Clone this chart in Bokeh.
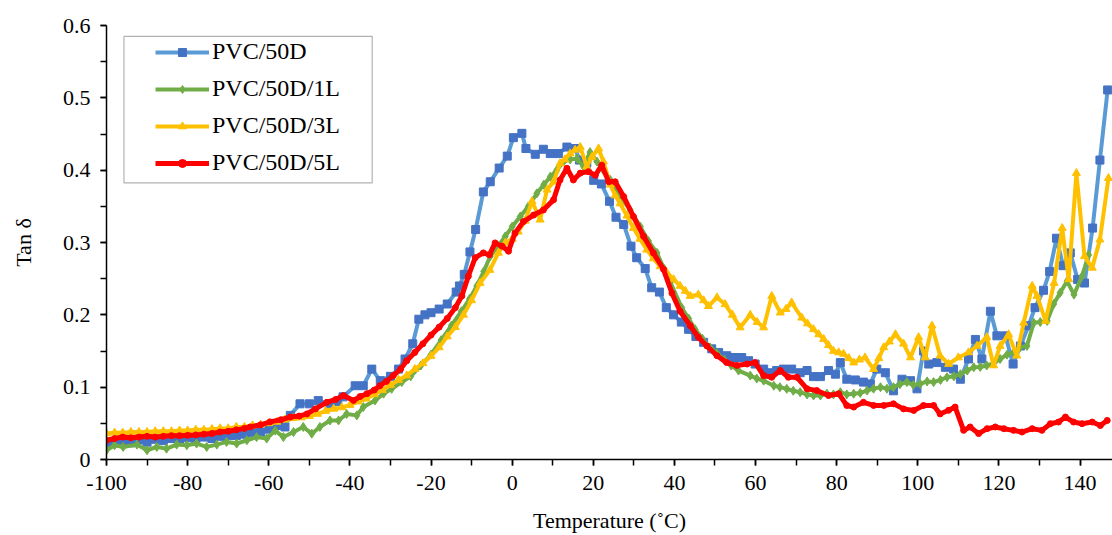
from bokeh.plotting import figure
from bokeh.embed import file_html
from bokeh.resources import INLINE
from bokeh.models import SingleIntervalTicker, NumeralTickFormatter, BoxAnnotation

# ---------------- data ----------------
blue_t = [-100, -98, -96, -94, -92, -90, -88, -86, -84, -82, -80, -78, -76, -74, -72, -70, -68, -66, -64, -62,
          -60, -58, -56, -54.7, -52.3, -50, -47.8, -45, -43, -41.7, -38.7, -36.7, -34.6, -32.5, -30, -28, -26.4,
          -24.5, -23, -21.5, -20, -18, -16, -13.8, -13, -11.8, -10.4, -9, -7.1, -5.4, -3.2, -1.2, 0.3, 2.4, 3.4,
          5.7, 7.7, 9.4, 11.4, 13.5, 15.5, 16.6, 18.4, 20.1, 22, 24, 25.6, 27.5, 29.3, 30.7, 32.8, 34.4, 36.3,
          38, 39.8, 41.7, 43.5, 45.3, 47.2, 49.2, 50.9, 52.9, 54.6, 56.6, 58.3, 59.9, 62, 63.6, 65.2, 66.9, 68.9,
          71, 72.7, 74.3, 76, 78, 79.7, 80.9, 82.5, 84.6, 86.6, 88.3, 89.9, 92, 94, 96.1, 98.2, 99.8, 101.4,
          102.7, 104.7, 106.8, 108.8, 110.5, 112.5, 114.2, 115.8, 117.9, 119.5, 121.6, 123.5, 125.3, 127.3,
          128.9, 131, 132.5, 134.2, 135.8, 137.6, 139.4, 141.1, 143.1, 144.9, 146.8]
blue_v = [0.020, 0.024, 0.026, 0.023, 0.027, 0.024, 0.028, 0.026, 0.029, 0.027, 0.030, 0.028, 0.031, 0.029,
          0.032, 0.033, 0.033, 0.035, 0.037, 0.038, 0.042, 0.047, 0.045, 0.061, 0.077, 0.077, 0.0815, 0.077,
          0.080, 0.0866, 0.102, 0.102, 0.125, 0.109, 0.115, 0.125, 0.139, 0.160, 0.194, 0.200, 0.203, 0.208,
          0.215, 0.2315, 0.240, 0.256, 0.287, 0.318, 0.370, 0.384, 0.403, 0.4195, 0.445, 0.451, 0.430, 0.422,
          0.429, 0.423, 0.423, 0.432, 0.430, 0.414, 0.410, 0.386, 0.381, 0.357, 0.335, 0.325, 0.295, 0.279,
          0.264, 0.2375, 0.2315, 0.210, 0.200, 0.190, 0.180, 0.170, 0.162, 0.153, 0.148, 0.1435, 0.141, 0.141,
          0.1366, 0.132, 0.125, 0.120, 0.123, 0.125, 0.125, 0.120, 0.123, 0.1146, 0.1146, 0.123, 0.118, 0.134,
          0.111, 0.110, 0.107, 0.1045, 0.125, 0.120, 0.095, 0.111, 0.109, 0.0977, 0.150, 0.132, 0.134, 0.1275,
          0.125, 0.111, 0.139, 0.166, 0.139, 0.205, 0.171, 0.171, 0.132, 0.157, 0.185, 0.210, 0.234, 0.260,
          0.306, 0.268, 0.2857, 0.249, 0.244, 0.320, 0.414, 0.511]

green_t = [-100, -98, -95.9, -92.5, -90, -87.6, -85.2, -82.7, -80.2, -77.8, -75.3, -72.8, -70.4, -67.9, -65.4,
           -63, -60.5, -58.4, -56.4, -53.9, -51.5, -49.4, -47.4, -44.9, -42.8, -40.8, -38.3, -36.7, -33.8,
           -31.7, -29.7, -27.2, -25, -22.5, -20, -17.5, -15, -12.5, -10.5, -8.7, -7, -5.4, -3.5, -1.7, 0, 2, 4,
           6.1, 7.8, 9.4, 11, 12.7, 14.3, 16, 17.6, 19.2, 20.9, 22.5, 24.2, 26.6, 29.1, 31.6, 33.6, 35.7, 37.3,
           39, 41.8, 43.5, 45.1, 46.9, 48.8, 50.5, 52.3, 54, 55.8, 58.7, 60.3, 62, 64.5, 66, 67.7, 69.3, 71,
           72.7, 74.3, 76, 77.6, 79.2, 80.9, 82.5, 84.2, 85.8, 87.5, 89.1, 90.8, 92.4, 94, 95.6, 97.3, 98.9,
           100.6, 102.3, 103.9, 105.6, 107.2, 108.9, 110.5, 112.2, 113.8, 115.4, 117, 118.7, 120.3, 122,
           123.6, 125.2, 126.9, 128.6, 130.2, 131.9, 133.5, 135.1, 136.8, 138.5, 140.5, 142.1]
green_v = [0.0128, 0.0197, 0.0174, 0.0206, 0.0128, 0.0174, 0.015, 0.0206, 0.0197, 0.022, 0.0174, 0.0206,
           0.0243, 0.022, 0.0266, 0.031, 0.029, 0.040, 0.031, 0.038, 0.045, 0.0357, 0.045, 0.054, 0.054, 0.063,
           0.061, 0.0725, 0.0816, 0.091, 0.0977, 0.107, 0.115, 0.130, 0.145, 0.165, 0.185, 0.205, 0.222, 0.240,
           0.260, 0.281, 0.295, 0.3085, 0.322, 0.336, 0.350, 0.368, 0.380, 0.391, 0.400, 0.412, 0.415, 0.416,
           0.405, 0.425, 0.412, 0.400, 0.3865, 0.3635, 0.345, 0.322, 0.302, 0.2857, 0.265, 0.245, 0.210, 0.195,
           0.180, 0.167, 0.155, 0.147, 0.138, 0.130, 0.123, 0.116, 0.112, 0.109, 0.102, 0.100, 0.0977, 0.095,
           0.093, 0.090, 0.0885, 0.0885, 0.091, 0.090, 0.093, 0.090, 0.091, 0.092, 0.0953, 0.098, 0.100, 0.098,
           0.100, 0.104, 0.107, 0.103, 0.1045, 0.108, 0.107, 0.110, 0.1137, 0.115, 0.118, 0.123, 0.1275, 0.128,
           0.130, 0.133, 0.139, 0.145, 0.148, 0.155, 0.157, 0.189, 0.190, 0.1916, 0.215, 0.2306, 0.2466, 0.228,
           0.2535, 0.283]

yellow_t = [-100, -98, -96, -94, -92, -90, -88, -86, -84, -82, -80, -78, -76, -74, -72, -70, -68, -66, -64, -62,
            -60, -58, -56, -54, -52, -50, -48, -46, -44, -42, -40, -38, -36, -34, -32, -30, -28, -26, -24, -22,
            -20, -18, -16, -14, -12, -10, -7.9, -5.5, -3.4, -1.7, 0, 1.5, 3.2, 4.9, 6.9, 8.6, 10.2, 11.8, 13,
            14.3, 15.5, 16.8, 18.4, 19.7, 21.3, 22.5, 24.2, 25.4, 26.6, 28.3, 29.9, 31.5, 33.2, 34.8, 36.5, 38.2,
            39.8, 41.4, 42.7, 43.9, 45.9, 47.2, 48.4, 50.5, 52.5, 54.3, 56.2, 58.7, 60.4, 62, 64, 66.1, 67.5,
            68.9, 71.4, 72.8, 74.3, 75.6, 76.8, 78, 79.2, 80.5, 81.7, 83, 84.2, 85.6, 87, 89.1, 90.4, 91.6, 93,
            94.5, 96.5, 98.2, 100.2, 101.8, 103.5, 105.5, 107.6, 110, 112.5, 114.6, 117, 118.7, 120.3, 122.4,
            124.4, 126.1, 128.2, 129.4, 131.5, 133.6, 135.6, 137.2, 139.1, 141.1, 143, 144.9, 147]
yellow_v = [0.036, 0.037, 0.037, 0.038, 0.038, 0.038, 0.039, 0.039, 0.039, 0.040, 0.040, 0.041, 0.041, 0.042,
            0.043, 0.043, 0.045, 0.045, 0.047, 0.048, 0.050, 0.052, 0.055, 0.057, 0.058, 0.060, 0.063, 0.067,
            0.070, 0.072, 0.075, 0.080, 0.084, 0.090, 0.096, 0.103, 0.110, 0.116, 0.125, 0.133, 0.143, 0.155,
            0.170, 0.183, 0.200, 0.220, 0.244, 0.262, 0.2857, 0.2995, 0.305, 0.315, 0.330, 0.357, 0.3315, 0.373,
            0.384, 0.4095, 0.415, 0.423, 0.428, 0.432, 0.405, 0.4185, 0.430, 0.412, 0.380, 0.365, 0.354, 0.337,
            0.320, 0.305, 0.290, 0.278, 0.267, 0.258, 0.249, 0.240, 0.233, 0.226, 0.228, 0.220, 0.212, 0.224,
            0.2146, 0.200, 0.1825, 0.200, 0.190, 0.1825, 0.226, 0.203, 0.208, 0.217, 0.196, 0.188, 0.180, 0.173,
            0.1665, 0.158, 0.150, 0.148, 0.146, 0.140, 0.134, 0.138, 0.141, 0.125, 0.140, 0.155, 0.163, 0.173,
            0.160, 0.141, 0.169, 0.141, 0.185, 0.1435, 0.132, 0.141, 0.148, 0.157, 0.169, 0.130, 0.157, 0.173,
            0.1435, 0.189, 0.240, 0.226, 0.1916, 0.244, 0.320, 0.249, 0.396, 0.281, 0.265, 0.304, 0.389]

red_t = [-100, -98, -96, -94, -92, -90, -88, -86, -84, -82, -80, -78, -76, -74, -72, -70, -68, -66, -64.6, -62,
         -59.7, -57, -54.7, -52.5, -50.6, -48.5, -45.7, -43.5, -41.6, -39.1, -37.5, -35.8, -34, -32.6, -31,
         -29.3, -27.5, -26, -24, -22, -20, -18, -16, -14, -12.4, -10.8, -9.1, -7.1, -5.6, -4.2, -2.5, -0.9,
         0.7, 2.8, 5.3, 7.7, 10.2, 11.8, 13.5, 15.1, 16.8, 18.8, 20.5, 22.1, 23.8, 25.4, 27.5, 29.9, 32.4,
         34.8, 37.3, 39.4, 41.4, 43.9, 45.9, 48, 50.5, 52.9, 55.4, 57.9, 59.9, 62, 64, 66.1, 68.1, 70.2, 72.7,
         75.1, 78, 80.5, 82.5, 84.2, 86.6, 89.1, 91.6, 94, 96.5, 99, 101.4, 103.9, 105.5, 107.6, 109.2, 111.3,
         112.9, 115, 117.1, 119.1, 121.2, 123.6, 125.7, 128.2, 130.6, 132.7, 134.7, 136.4, 138.4, 140.5, 143,
         145, 146.7]
red_v = [0.0266, 0.029, 0.031, 0.030, 0.031, 0.032, 0.031, 0.032, 0.033, 0.033, 0.0334, 0.034, 0.035, 0.036,
         0.038, 0.039, 0.041, 0.043, 0.045, 0.048, 0.052, 0.055, 0.0587, 0.060, 0.063, 0.070, 0.079, 0.083,
         0.0885, 0.0816, 0.087, 0.091, 0.096, 0.102, 0.108, 0.116, 0.125, 0.1366, 0.148, 0.160, 0.172, 0.183,
         0.195, 0.210, 0.226, 0.2535, 0.279, 0.2857, 0.283, 0.2995, 0.295, 0.288, 0.313, 0.329, 0.338, 0.345,
         0.359, 0.3865, 0.4026, 0.3865, 0.396, 0.398, 0.393, 0.407, 0.384, 0.384, 0.3635, 0.336, 0.3085,
         0.2857, 0.263, 0.230, 0.205, 0.185, 0.169, 0.157, 0.1435, 0.134, 0.130, 0.132, 0.134, 0.116, 0.1137,
         0.123, 0.1137, 0.1137, 0.0977, 0.0953, 0.0885, 0.091, 0.0747, 0.0725, 0.079, 0.0747, 0.0747, 0.077,
         0.070, 0.0678, 0.0747, 0.0747, 0.063, 0.068, 0.0725, 0.0403, 0.045, 0.0358, 0.0426, 0.045, 0.0426,
         0.0403, 0.038, 0.0426, 0.0403, 0.0495, 0.0518, 0.0587, 0.0518, 0.0495, 0.0518, 0.047, 0.054]

series_labels = ["PVC/50D", "PVC/50D/1L", "PVC/50D/3L", "PVC/50D/5L"]

x_title = "Temperature (˚C)"
y_title = "Tan δ"

# ---------------- figure ----------------
FONT = "Liberation Serif"

p = figure(width=1112, height=535, x_range=(-100, 148), y_range=(0, 0.6001),
           output_backend="svg", toolbar_location=None)
p.min_border_left = 106
p.min_border_right = 0
p.min_border_top = 25
p.min_border_bottom = 74
p.outline_line_color = None
p.xgrid.visible = False
p.ygrid.visible = False
p.background_fill_color = "white"
p.border_fill_color = "white"

# series
p.line(blue_t, blue_v, line_color="#5B9BD5", line_width=4, legend_label=series_labels[0])
p.scatter(blue_t, blue_v, marker="square", size=8, fill_color="#4472C4", line_color="#4472C4",
          legend_label=series_labels[0])

p.line(green_t, green_v, line_color="#70AD47", line_width=4, legend_label=series_labels[1])
p.scatter(green_t, green_v, marker="diamond", size=9, fill_color="#70AD47", line_color="#70AD47",
          legend_label=series_labels[1])

p.line(yellow_t, yellow_v, line_color="#FFC000", line_width=4, legend_label=series_labels[2])
p.scatter(yellow_t, yellow_v, marker="triangle", size=8, fill_color="#FFC000", line_color="#FFC000",
          legend_label=series_labels[2])

p.line(red_t, red_v, line_color="#FF0000", line_width=5, legend_label=series_labels[3])
p.scatter(red_t, red_v, marker="circle", size=6, fill_color="#FF0000", line_color="#FF0000",
          legend_label=series_labels[3])

# axes
p.xaxis.ticker = SingleIntervalTicker(interval=20, num_minor_ticks=2)
p.yaxis.ticker = SingleIntervalTicker(interval=0.1, num_minor_ticks=2)
p.xaxis.formatter = NumeralTickFormatter(format="0")
p.yaxis.formatter = NumeralTickFormatter(format="0.[0]")
for ax in (p.xaxis[0], p.yaxis[0]):
    ax.axis_line_color = "black"
    ax.axis_line_width = 1.5
    ax.major_tick_line_color = "black"
    ax.minor_tick_line_color = "black"
    ax.major_tick_line_width = 1.5
    ax.minor_tick_line_width = 1.5
    ax.major_tick_out = 6
    ax.major_tick_in = 0
    ax.minor_tick_out = 6
    ax.minor_tick_in = 0
    ax.major_label_text_font = FONT
    ax.major_label_text_font_size = "22px"
    ax.major_label_text_color = "black"
    ax.axis_label_text_font = FONT
    ax.axis_label_text_font_size = "22px"
    ax.axis_label_text_font_style = "normal"
    ax.axis_label_text_color = "black"
p.xaxis.axis_label = x_title
p.yaxis.axis_label = y_title
p.xaxis.major_label_standoff = 10
p.xaxis.axis_label_standoff = 15
p.yaxis.major_label_standoff = 10
p.yaxis.axis_label_standoff = 24

# legend
leg = p.legend[0]
leg.location = (49, 278)
leg.padding = 0
leg.spacing = 0
leg.margin = 0
leg.glyph_width = 54
leg.glyph_height = 20
leg.label_height = 37
leg.label_standoff = 3
leg.label_text_font = FONT
leg.label_text_font_size = "24px"
leg.label_text_color = "black"
leg.border_line_alpha = 0
leg.background_fill_alpha = 0

frame_box = BoxAnnotation(left=-95.7, right=-34.5, top=0.585, bottom=0.3824,
                          fill_alpha=0, line_color="black", line_width=1.2)
p.add_layout(frame_box)

open("out.html", "w").write(file_html(p, INLINE))
